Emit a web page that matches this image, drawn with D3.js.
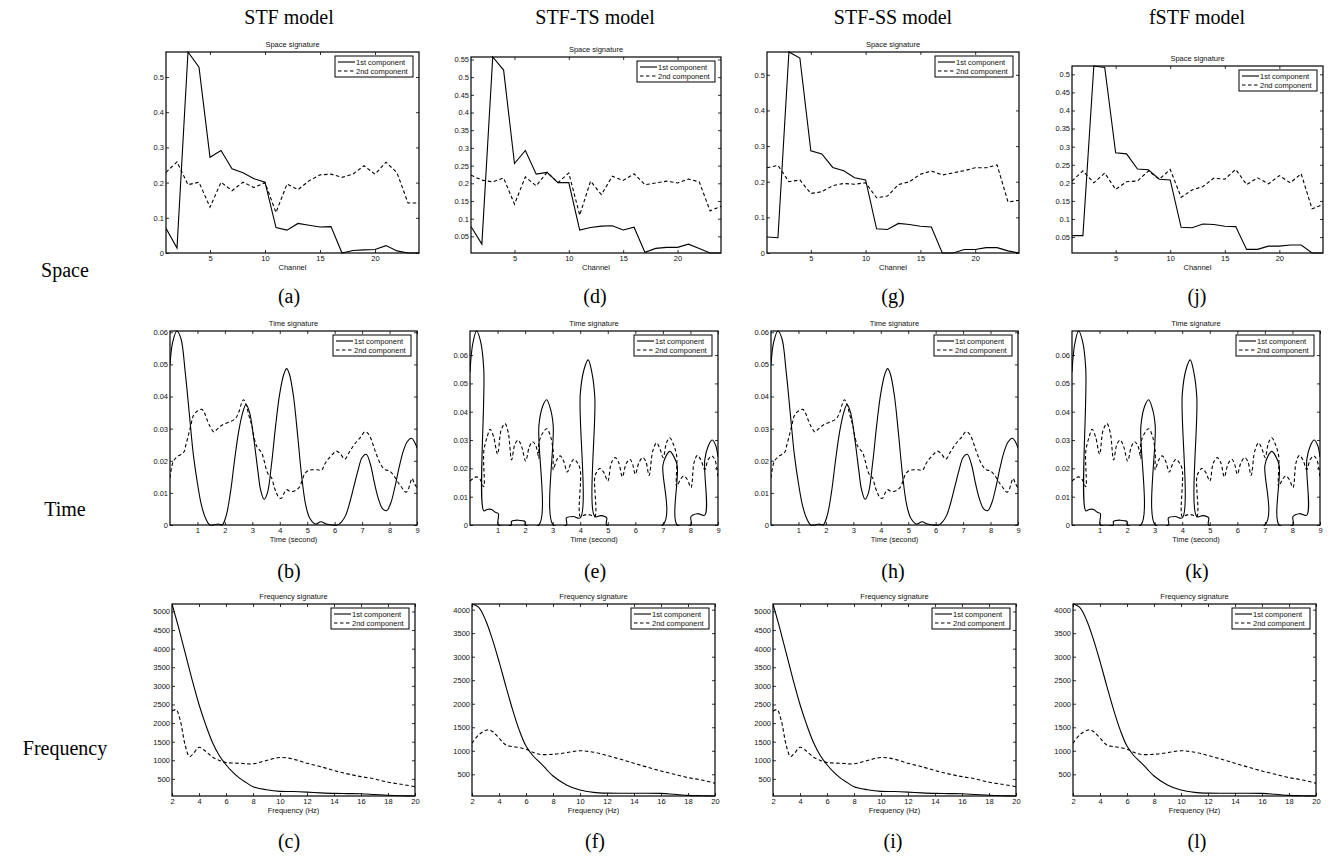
<!DOCTYPE html>
<html>
<head>
<meta charset="utf-8">
<script src="https://cdn.jsdelivr.net/npm/d3@7"></script>
<style>
  body { margin: 0; background: #fff; }
  .small { font-family: "Liberation Sans", Arial, Helvetica, sans-serif; font-size: 7.5px; fill: #111; }
  .big { font-family: "Liberation Serif", "Times New Roman", serif; font-size: 20px; fill: #000; }
</style>
</head>
<body>
<svg id="fig" width="1335" height="857"></svg>
<script>
// ---- data ----
const models = ['STF model', 'STF-TS model', 'STF-SS model', 'fSTF model'];
const rowNames = ['Space', 'Time', 'Frequency'];
const tags = [['(a)', '(b)', '(c)'], ['(d)', '(e)', '(f)'], ['(g)', '(h)', '(i)'], ['(j)', '(k)', '(l)']];
const legendNames = ['1st component', '2nd component'];

const channels = d3.range(1, 25);

const stfSpace1 = [0.070, 0.014, 0.571, 0.528, 0.272, 0.291, 0.239, 0.228, 0.211, 0.201, 0.072, 0.065, 0.084, 0.079, 0.074, 0.075, 0.000, 0.007, 0.009, 0.010, 0.021, 0.006, 0.000, 0.000];
const stfSpace2 = [0.229, 0.259, 0.194, 0.201, 0.130, 0.201, 0.177, 0.201, 0.186, 0.200, 0.115, 0.196, 0.180, 0.205, 0.222, 0.224, 0.215, 0.224, 0.248, 0.224, 0.258, 0.228, 0.142, 0.142];
const tsSpace1 = [0.078, 0.028, 0.557, 0.520, 0.256, 0.293, 0.226, 0.231, 0.202, 0.202, 0.068, 0.075, 0.079, 0.080, 0.068, 0.076, 0.005, 0.016, 0.019, 0.019, 0.028, 0.016, 0.003, 0.003];
const tsSpace2 = [0.223, 0.209, 0.204, 0.215, 0.141, 0.218, 0.193, 0.231, 0.202, 0.229, 0.110, 0.206, 0.168, 0.220, 0.208, 0.227, 0.196, 0.201, 0.206, 0.201, 0.212, 0.204, 0.122, 0.135];
const ssSpace1 = [0.045, 0.043, 0.564, 0.547, 0.287, 0.278, 0.240, 0.231, 0.211, 0.205, 0.068, 0.066, 0.083, 0.080, 0.075, 0.073, 0.000, 0.000, 0.010, 0.010, 0.015, 0.015, 0.006, 0.000];
const ssSpace2 = [0.239, 0.246, 0.200, 0.205, 0.167, 0.172, 0.189, 0.195, 0.193, 0.197, 0.155, 0.160, 0.192, 0.200, 0.221, 0.230, 0.219, 0.225, 0.231, 0.239, 0.239, 0.247, 0.143, 0.148];
const fSpace1 = [0.054, 0.054, 0.523, 0.519, 0.283, 0.280, 0.238, 0.236, 0.210, 0.208, 0.077, 0.076, 0.086, 0.085, 0.080, 0.079, 0.016, 0.016, 0.025, 0.025, 0.028, 0.028, 0.006, 0.006];
const fSpace2 = [0.205, 0.233, 0.200, 0.227, 0.182, 0.203, 0.205, 0.233, 0.210, 0.237, 0.160, 0.180, 0.190, 0.213, 0.210, 0.237, 0.195, 0.214, 0.197, 0.220, 0.200, 0.225, 0.128, 0.140];

// time signatures: [second, value]
const stfTime1 = [[0,0.050],[0.1,0.057],[0.25,0.0604],[0.4,0.058],[0.55,0.048],[0.7,0.035],[0.85,0.022],[1.0,0.013],[1.15,0.006],[1.3,0.002],[1.45,0.0],[1.6,0.0],[1.75,0.0003],[1.9,0.0],[2.05,0.003],[2.2,0.010],[2.35,0.020],[2.5,0.029],[2.65,0.035],[2.77,0.0375],[2.9,0.035],[3.05,0.027],[3.2,0.017],[3.3,0.011],[3.43,0.008],[3.55,0.010],[3.7,0.019],[3.85,0.031],[4.0,0.041],[4.15,0.047],[4.25,0.0487],[4.35,0.047],[4.5,0.040],[4.65,0.028],[4.8,0.015],[4.95,0.006],[5.1,0.002],[5.3,0.0003],[5.5,0.001],[5.7,0.0003],[5.9,0.0],[6.1,0.0],[6.25,0.001],[6.4,0.003],[6.55,0.007],[6.7,0.012],[6.85,0.017],[7.0,0.021],[7.15,0.022],[7.3,0.019],[7.45,0.013],[7.6,0.008],[7.75,0.005],[7.9,0.0045],[8.05,0.007],[8.2,0.012],[8.35,0.018],[8.5,0.023],[8.65,0.026],[8.8,0.027],[8.9,0.026],[9.0,0.024]];
const stfTime2 = [[0,0.0147],[0.06,0.018],[0.13,0.020],[0.3,0.0215],[0.49,0.0225],[0.58,0.025],[0.67,0.028],[0.76,0.031],[0.85,0.034],[1.0,0.0355],[1.16,0.036],[1.25,0.035],[1.34,0.033],[1.47,0.0305],[1.6,0.029],[1.74,0.030],[1.88,0.031],[2.13,0.032],[2.37,0.033],[2.5,0.035],[2.61,0.038],[2.68,0.039],[2.77,0.0375],[2.88,0.034],[2.98,0.031],[3.07,0.027],[3.16,0.0245],[3.34,0.0225],[3.43,0.020],[3.52,0.017],[3.6,0.0155],[3.7,0.0147],[3.79,0.012],[3.88,0.010],[3.97,0.0085],[4.06,0.0083],[4.15,0.0098],[4.25,0.011],[4.37,0.0105],[4.5,0.0105],[4.62,0.011],[4.73,0.012],[4.82,0.014],[4.91,0.016],[5.05,0.017],[5.22,0.0172],[5.38,0.0172],[5.52,0.017],[5.64,0.019],[5.76,0.0205],[5.92,0.022],[6.07,0.023],[6.22,0.022],[6.37,0.0205],[6.52,0.0225],[6.67,0.0245],[6.8,0.026],[6.91,0.027],[7.0,0.028],[7.09,0.029],[7.18,0.0288],[7.28,0.0277],[7.4,0.025],[7.52,0.022],[7.67,0.019],[7.82,0.0173],[8.0,0.0168],[8.12,0.0158],[8.24,0.0143],[8.33,0.013],[8.42,0.012],[8.52,0.0108],[8.6,0.0102],[8.68,0.011],[8.75,0.013],[8.82,0.0145],[8.9,0.013],[9.0,0.0115]];
const tsTime1 = [[0,0.054],[0.1,0.064],[0.24,0.0685],[0.38,0.065],[0.5,0.055],[0.5,0.005],[0.62,0.0055],[0.78,0.0055],[0.92,0.0045],[1.03,0.004],[1.03,0],[1.5,0],[1.5,0.0012],[1.6,0.0016],[1.75,0.0017],[1.9,0.0015],[2.0,0.0012],[2.0,0],[2.5,0],[2.5,0.035],[2.64,0.042],[2.78,0.0442],[2.92,0.041],[3.02,0.035],[3.02,0],[3.5,0],[3.5,0.0025],[3.75,0.003],[4.0,0.0025],[4.0,0.046],[4.14,0.055],[4.29,0.0583],[4.42,0.054],[4.53,0.045],[4.53,0.003],[4.75,0.0033],[4.96,0.0025],[4.96,0],[7.0,0],[7.0,0.021],[7.12,0.0245],[7.25,0.026],[7.38,0.0245],[7.52,0.021],[7.52,0],[8.02,0],[8.02,0.003],[8.25,0.004],[8.52,0.0035],[8.52,0.023],[8.65,0.028],[8.79,0.030],[8.92,0.028],[9.0,0.024]];
const tsTime2 = [[0,0.0155],[0.12,0.0165],[0.24,0.017],[0.36,0.0162],[0.5,0.0135],[0.5,0.026],[0.62,0.031],[0.73,0.0338],[0.86,0.031],[1.0,0.025],[1.13,0.0335],[1.27,0.0358],[1.39,0.0325],[1.51,0.023],[1.63,0.0285],[1.75,0.030],[1.88,0.0275],[2.02,0.0226],[2.15,0.0275],[2.27,0.0294],[2.39,0.028],[2.5,0.0235],[2.5,0.029],[2.64,0.0325],[2.78,0.034],[2.9,0.032],[3.02,0.026],[3.02,0.0195],[3.14,0.0228],[3.27,0.0244],[3.4,0.0225],[3.53,0.0187],[3.65,0.0215],[3.77,0.0232],[3.88,0.0222],[4.0,0.0196],[4.0,0.003],[4.12,0.0034],[4.25,0.0037],[4.38,0.0035],[4.53,0.003],[4.53,0.017],[4.62,0.019],[4.72,0.020],[4.86,0.0185],[5.0,0.0155],[5.13,0.022],[5.27,0.0238],[5.4,0.022],[5.53,0.017],[5.66,0.0215],[5.8,0.0232],[5.9,0.0215],[6.0,0.0179],[6.13,0.022],[6.27,0.0238],[6.38,0.0225],[6.5,0.0175],[6.63,0.026],[6.77,0.029],[6.89,0.027],[7.01,0.0238],[7.13,0.029],[7.25,0.0308],[7.38,0.0285],[7.5,0.0244],[7.5,0.0135],[7.63,0.016],[7.76,0.0173],[7.89,0.016],[8.02,0.0132],[8.13,0.022],[8.25,0.0246],[8.38,0.023],[8.52,0.0196],[8.64,0.023],[8.77,0.0244],[8.89,0.023],[9.0,0.0167]];

// frequency signatures: [Hz, value]
const stfFreq1 = [[2,5200],[2.5,4550],[3,3850],[3.5,3150],[4,2500],[4.5,1950],[5,1480],[5.5,1130],[6,880],[6.5,680],[7,520],[7.5,400],[8,290],[9,210],[10,165],[11,160],[12,145],[13,125],[14,110],[15,105],[16,100],[17,80],[18,60],[19,48],[20,40]];
const stfFreq2 = [[2,2320],[2.3,2360],[2.6,2090],[3,1370],[3.3,1100],[3.6,1190],[4,1350],[4.5,1240],[5,1085],[5.5,995],[6,940],[7,920],[8,905],[9,995],[10,1075],[11,1030],[12,920],[13,830],[14,725],[15,635],[16,560],[17,500],[18,410],[19,355],[20,290]];
const tsFreq1 = [[2,4120],[2.5,4050],[3,3780],[3.5,3380],[4,2900],[4.5,2380],[5,1880],[5.5,1440],[6,1100],[6.5,900],[7,760],[7.5,610],[8,465],[9,275],[10,165],[11,117],[12,100],[14,98],[16,95],[17,75],[18,53],[19,45],[20,39]];
const tsFreq2 = [[2,1160],[2.5,1340],[3,1430],[3.3,1445],[3.6,1390],[4,1270],[4.5,1125],[5,1090],[5.5,1070],[6,1035],[6.5,970],[7,925],[8,925],[9,960],[10,1000],[11,970],[12,900],[13,820],[14,735],[15,650],[16,570],[17,500],[18,430],[19,380],[20,310]];

// tick labels
const spaceXTicks = [5, 10, 15, 20];
const spaceYTicks = [0, 0.1, 0.2, 0.3, 0.4, 0.5];
const spaceYTicksFine = [0.05, 0.1, 0.15, 0.2, 0.25, 0.3, 0.35, 0.4, 0.45, 0.5, 0.55];
const spaceYTicksFineShort = [0.05, 0.1, 0.15, 0.2, 0.25, 0.3, 0.35, 0.4, 0.45, 0.5];
const timeXTicks = [1, 2, 3, 4, 5, 6, 7, 8, 9];
const timeYTicks = [0, 0.01, 0.02, 0.03, 0.04, 0.05, 0.06];
const freqXTicks = [2, 4, 6, 8, 10, 12, 14, 16, 18, 20];
const freqYTicksA = [500, 1000, 1500, 2000, 2500, 3000, 3500, 4000, 4500, 5000];
const freqYTicksB = [500, 1000, 1500, 2000, 2500, 3000, 3500, 4000];

// ---- layout ----
const layout = {
    space: { tops: [52, 57, 52, 66], bottom: 253, x: [[166, 419], [471, 721], [767, 1019], [1072, 1323]] },
    time:  { tops: [331, 331, 331, 331], bottom: 525, x: [[170, 417], [470, 718], [771, 1018], [1072, 1320]] },
    freq:  { tops: [604, 604, 604, 604], bottom: 796, x: [[172, 415], [472, 715], [773, 1016], [1073, 1316]] }
};
const rowInfo = {
    space: { title: 'Space signature', xlabel: 'Channel', xTicks: spaceXTicks, tagY: 303, curve: d3.curveLinear },
    time:  { title: 'Time signature', xlabel: 'Time (second)', xTicks: timeXTicks, tagY: 578, curve: d3.curveCatmullRom.alpha(0.5) },
    freq:  { title: 'Frequency signature', xlabel: 'Frequency (Hz)', xTicks: freqXTicks, tagY: 848, curve: d3.curveCatmullRom.alpha(0.5) }
};
const headerX = [289, 595, 893, 1197];

const toPairs = arr => channels.map((c, i) => [c, arr[i]]);

const panels = [
    { row: 'space', col: 0, s1: toPairs(stfSpace1), s2: toPairs(stfSpace2), yTicks: spaceYTicks },
    { row: 'space', col: 1, s1: toPairs(tsSpace1), s2: toPairs(tsSpace2), yTicks: spaceYTicksFine },
    { row: 'space', col: 2, s1: toPairs(ssSpace1), s2: toPairs(ssSpace2), yTicks: spaceYTicks },
    { row: 'space', col: 3, s1: toPairs(fSpace1), s2: toPairs(fSpace2), yTicks: spaceYTicksFineShort },
    { row: 'time', col: 0, s1: stfTime1, s2: stfTime2, yTicks: timeYTicks },
    { row: 'time', col: 1, s1: tsTime1, s2: tsTime2, yTicks: timeYTicks },
    { row: 'time', col: 2, s1: stfTime1, s2: stfTime2, yTicks: timeYTicks },
    { row: 'time', col: 3, s1: tsTime1, s2: tsTime2, yTicks: timeYTicks },
    { row: 'freq', col: 0, s1: stfFreq1, s2: stfFreq2, yTicks: freqYTicksA },
    { row: 'freq', col: 1, s1: tsFreq1, s2: tsFreq2, yTicks: freqYTicksB },
    { row: 'freq', col: 2, s1: stfFreq1, s2: stfFreq2, yTicks: freqYTicksA },
    { row: 'freq', col: 3, s1: tsFreq1, s2: tsFreq2, yTicks: freqYTicksB }
];

const svg = d3.select('#fig');

// column headers and row names
svg.selectAll('.head').data(models).enter().append('text')
    .attr('class', 'big').attr('x', (d, i) => headerX[i]).attr('y', 24)
    .attr('text-anchor', 'middle').text(d => d);

svg.selectAll('.rowname').data(rowNames).enter().append('text')
    .attr('class', 'big').attr('x', 65).attr('y', (d, i) => [277, 516, 755][i])
    .attr('text-anchor', 'middle').text(d => d);

panels.forEach((p, idx) => {
    const L = layout[p.row], info = rowInfo[p.row];
    const left = L.x[p.col][0], right = L.x[p.col][1];
    const top = L.tops[p.col], bottom = L.bottom;

    const all = p.s1.concat(p.s2);
    const x = d3.scaleLinear().domain(d3.extent(p.s1, d => d[0])).range([left, right]);
    const y = d3.scaleLinear().domain(d3.extent(all, d => d[1])).range([bottom, top]);

    const g = svg.append('g');

    g.append('clipPath').attr('id', 'clip' + idx)
        .append('rect').attr('x', left).attr('y', top - 1)
        .attr('width', right - left).attr('height', bottom - top + 2);

    // axes, ticks pointing inward
    const ax = g.append('g').attr('class', 'small');
    ax.append('g').attr('transform', `translate(0,${bottom})`)
        .call(d3.axisBottom(x).tickValues(info.xTicks).tickSizeInner(-3).tickSizeOuter(0).tickPadding(3).tickFormat(d3.format('')));
    ax.append('g').attr('transform', `translate(0,${top})`)
        .call(d3.axisTop(x).tickValues(info.xTicks).tickSizeInner(-3).tickSizeOuter(0).tickFormat(''));
    ax.append('g').attr('transform', `translate(${left},0)`)
        .call(d3.axisLeft(y).tickValues(p.yTicks).tickSizeInner(-3).tickSizeOuter(0).tickPadding(2).tickFormat(d3.format('')));
    ax.append('g').attr('transform', `translate(${right},0)`)
        .call(d3.axisRight(y).tickValues(p.yTicks).tickSizeInner(-3).tickSizeOuter(0).tickFormat(''));
    ax.selectAll('.domain').remove();
    ax.selectAll('.tick line').attr('stroke', '#000').attr('stroke-width', 0.8);
    ax.selectAll('.tick text').attr('fill', '#111').style('font-size', '7.5px')
        .style('font-family', '"Liberation Sans", Arial, sans-serif');

    // curves
    const line = d3.line().x(d => x(d[0])).y(d => y(d[1])).curve(info.curve);
    const lines = g.append('g').attr('clip-path', `url(#clip${idx})`);
    lines.append('path').datum(p.s2).attr('d', line)
        .attr('fill', 'none').attr('stroke', '#000').attr('stroke-width', 1.1)
        .attr('stroke-dasharray', '3.5,2.5');
    lines.append('path').datum(p.s1).attr('d', line)
        .attr('fill', 'none').attr('stroke', '#000').attr('stroke-width', 1.1);

    // frame
    g.append('rect').attr('x', left).attr('y', top)
        .attr('width', right - left).attr('height', bottom - top)
        .attr('fill', 'none').attr('stroke', '#000').attr('stroke-width', 1.2);

    // texts
    const cx = (left + right) / 2;
    g.append('text').attr('class', 'small').attr('x', cx).attr('y', top - 5)
        .attr('text-anchor', 'middle').text(info.title);
    g.append('text').attr('class', 'small').attr('x', cx).attr('y', bottom + 17)
        .attr('text-anchor', 'middle').text(info.xlabel);

    // legend
    const lw = 78, lh = 21;
    const lx = right - 6 - lw, ly = top + 4;
    const lg = g.append('g');
    lg.append('rect').attr('x', lx).attr('y', ly).attr('width', lw).attr('height', lh)
        .attr('fill', '#fff').attr('stroke', '#000').attr('stroke-width', 1);
    legendNames.forEach((name, k) => {
        const yy = ly + 6 + k * 9;
        lg.append('line').attr('x1', lx + 3).attr('x2', lx + 20).attr('y1', yy).attr('y2', yy)
            .attr('stroke', '#000').attr('stroke-width', 1.1)
            .attr('stroke-dasharray', k === 1 ? '3.5,2.5' : null);
        lg.append('text').attr('class', 'small').attr('x', lx + 21).attr('y', yy + 2.7).text(name);
    });

    // sub-figure tag
    svg.append('text').attr('class', 'big').attr('x', headerX[p.col]).attr('y', info.tagY)
        .attr('text-anchor', 'middle').text(tags[p.col][['space', 'time', 'freq'].indexOf(p.row)]);
});
</script>
</body>
</html>
